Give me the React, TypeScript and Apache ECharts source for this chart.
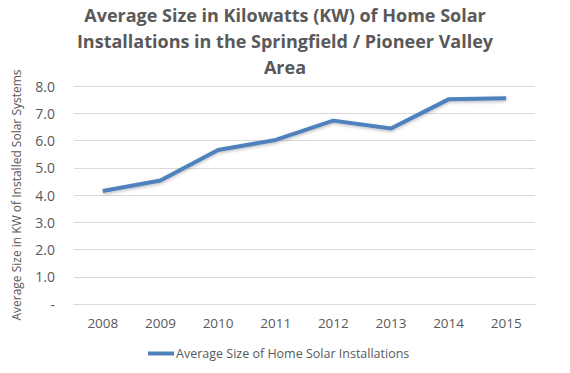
import React, { useEffect, useRef } from "react";
import * as echarts from "echarts";

const titleLines = [
  "Average Size in Kilowatts (KW) of Home Solar",
  "Installations in the Springfield / Pioneer Valley",
  "Area",
];
const years = ["2008", "2009", "2010", "2011", "2012", "2013", "2014", "2015"];
const avgSize = [4.15, 4.53, 5.65, 6.02, 6.73, 6.44, 7.51, 7.55];
const seriesName = "Average Size of Home Solar Installations";
const yAxisName = "Average Size in KW of Installed Solar Systems";

export default function App() {
  const ref = useRef<HTMLDivElement>(null);
  useEffect(() => {
    if (!ref.current) return;
    const chart = echarts.init(ref.current, undefined, { renderer: "svg" });
    const font = "'Open Sans', 'Noto Sans', sans-serif";
    chart.setOption({
      animation: false,
      textStyle: { fontFamily: font },
      title: {
        text: titleLines.join("\n"),
        left: "center",
        top: -3,
        textStyle: {
          fontFamily: font,
          fontSize: 18,
          fontWeight: "bold",
          color: "#595959",
          lineHeight: 26,
        },
      },
      legend: {
        bottom: 8,
        left: 143,
        itemWidth: 26,
        itemHeight: 4,
        itemGap: 2,
        icon: "rect",
        textStyle: { fontSize: 12.5, color: "#595959", fontFamily: font, padding: [0, 0, 0, -3] },
        data: [seriesName],
      },
      grid: { left: 74, right: 35, top: 86, bottom: 69 },
      xAxis: {
        type: "category",
        data: years,
        boundaryGap: true,
        axisLine: { show: true, lineStyle: { color: "#d9d9d9", width: 1 } },
        axisTick: { show: false },
        axisLabel: { color: "#595959", fontSize: 13.5, margin: 12, fontFamily: font },
      },
      yAxis: {
        type: "value",
        min: 0,
        max: 8,
        interval: 1,
        name: yAxisName,
        nameLocation: "middle",
        nameGap: 52,
        nameTextStyle: { color: "#595959", fontSize: 12, fontFamily: font },
        axisLine: { show: false },
        axisTick: { show: false },
        splitLine: { lineStyle: { color: "#d9d9d9", width: 1 } },
        axisLabel: {
          color: "#595959",
          fontSize: 14,
          margin: 19,
          fontFamily: font,
          formatter: (v: number) => (v === 0 ? "-" : v.toFixed(1)),
        },
      },
      series: [
        {
          name: seriesName,
          type: "line",
          data: avgSize,
          symbol: "none",
          lineStyle: {
            color: "#4f81bd",
            width: 4,
            shadowColor: "rgba(0,0,0,0.25)",
            shadowBlur: 3,
            shadowOffsetY: 1.5,
          },
          itemStyle: { color: "#4f81bd" },
        },
      ],
    });
    return () => chart.dispose();
  }, []);
  return <div ref={ref} style={{ width: 570, height: 373, margin: -8 }} />;
}
